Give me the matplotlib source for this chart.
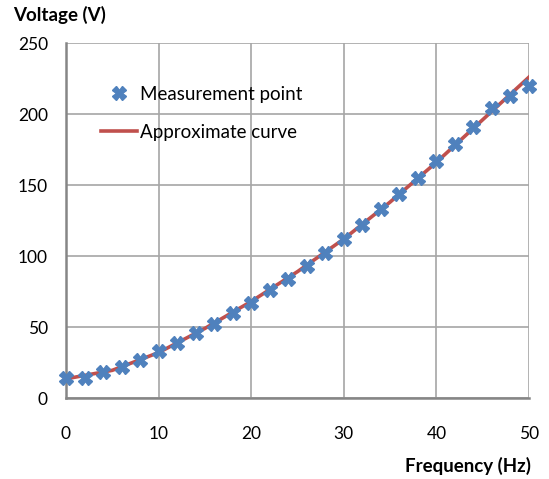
import numpy as np
import matplotlib.pyplot as plt

plt.rcParams['font.family'] = ['Lato', 'DejaVu Sans']

freq_points = [0, 2, 4, 6, 8, 10, 12, 14, 16, 18, 20, 22, 24, 26, 28, 30,
               32, 34, 36, 38, 40, 42, 44, 46, 48, 50]
volt_points = [14, 14, 18, 22, 27, 33, 39, 46, 52, 60, 67, 76, 84, 93, 102, 112,
               122, 133, 144, 155, 167, 179, 191, 204, 213, 220]

# approximate curve sampled from the chart
freq_curve = [0, 5, 10, 15, 20, 25, 30, 35, 40, 45, 50]
volt_curve = [13.5, 19.5, 32, 49, 68, 89, 112, 138, 166, 196, 226]

fig = plt.figure(figsize=(5.49, 4.79), dpi=100)
ax = fig.add_axes([0.1202, 0.1691, 0.8434, 0.7411])

ax.plot(freq_curve, volt_curve, '-', color='#C0504D', lw=2.6,
        label='Approximate curve', zorder=3)
ax.plot(freq_points, volt_points, 'X', color='#4F81BD', ms=10, mec='#4F81BD',
        label='Measurement point', zorder=4, clip_on=False)

ax.set_xlim(0, 50)
ax.set_ylim(0, 250)
ax.set_xticks(np.arange(0, 51, 10))
ax.set_yticks(np.arange(0, 251, 50))
ax.grid(True, color='#a6a6a6', lw=1.2)
ax.set_axisbelow(True)

for side in ['top', 'right']:
    ax.spines[side].set_visible(False)
for side in ['left', 'bottom']:
    ax.spines[side].set_color('#868686')
    ax.spines[side].set_linewidth(1.8)

ax.tick_params(length=0, labelsize=12.5)
ax.tick_params(axis='y', pad=13)
ax.tick_params(axis='x', pad=20)

fig.text(0.024, 0.968, 'Voltage (V)', fontsize=13.5, fontweight='bold', va='center')
fig.text(0.967, 0.028, 'Frequency (Hz)', fontsize=13.5, fontweight='bold',
         va='center', ha='right')

handles, labels = ax.get_legend_handles_labels()
ax.legend(handles[::-1], labels[::-1], loc='upper left', frameon=False,
          bbox_to_anchor=(0.06, 0.90), fontsize=13.5, handlelength=1.9,
          handletextpad=0.15, labelspacing=1.1, borderaxespad=0)

fig.savefig('out.png', dpi=100)
